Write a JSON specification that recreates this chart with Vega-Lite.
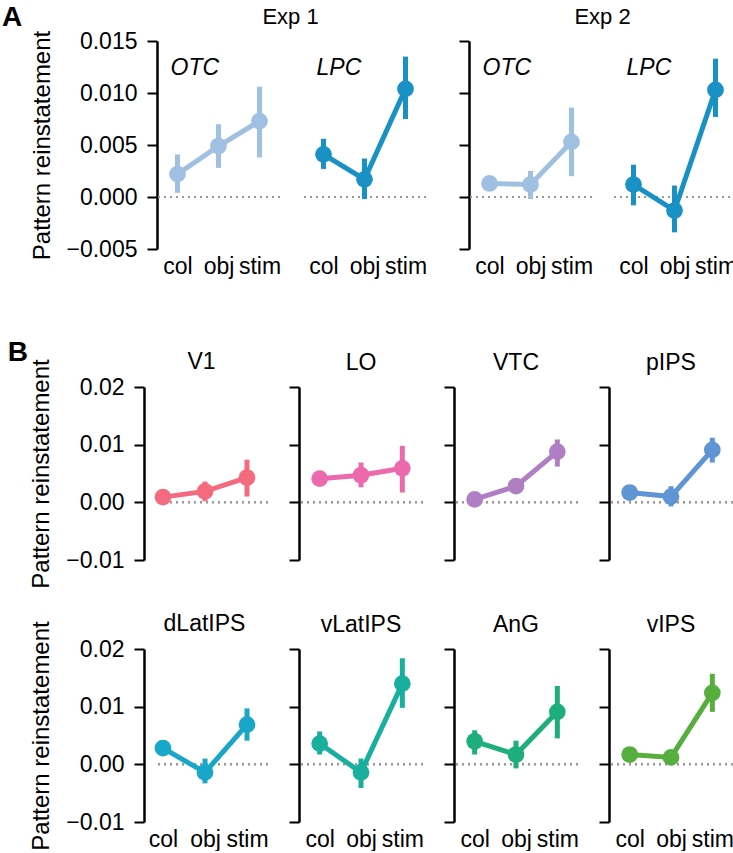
{
  "$schema": "https://vega.github.io/schema/vega-lite/v6.json",
  "padding": {"left": 2, "top": 4, "right": 0, "bottom": 0},
  "background": "white",
  "config": {
    "font": "Liberation Sans",
    "view": {"stroke": null},
    "axis": {"grid": false, "domainColor": "black", "domainWidth": 2.5, "tickColor": "black", "tickWidth": 2, "tickSize": 10, "labelFontSize": 23, "labelColor": "black", "titleFontSize": 24, "titleColor": "black", "titleFontWeight": "normal", "labelPadding": 10, "titlePadding": 12},
    "title": {"fontSize": 23, "fontWeight": "normal", "color": "black"}
  },
  "datasets": {
    "d": [
      {"set": "A1", "roi": "OTC", "cond": "col", "mean": 0.0022, "lo": 0.0004, "hi": 0.0041},
      {"set": "A1", "roi": "OTC", "cond": "obj", "mean": 0.0049, "lo": 0.0028, "hi": 0.0070},
      {"set": "A1", "roi": "OTC", "cond": "stim", "mean": 0.0073, "lo": 0.0038, "hi": 0.0106},
      {"set": "A1", "roi": "LPC", "cond": "col", "mean": 0.0041, "lo": 0.0027, "hi": 0.0056},
      {"set": "A1", "roi": "LPC", "cond": "obj", "mean": 0.0017, "lo": -0.0002, "hi": 0.0037},
      {"set": "A1", "roi": "LPC", "cond": "stim", "mean": 0.0104, "lo": 0.0075, "hi": 0.0135},
      {"set": "A2", "roi": "OTC", "cond": "col", "mean": 0.0013, "lo": 0.0010, "hi": 0.0016},
      {"set": "A2", "roi": "OTC", "cond": "obj", "mean": 0.0012, "lo": -0.0002, "hi": 0.0025},
      {"set": "A2", "roi": "OTC", "cond": "stim", "mean": 0.0053, "lo": 0.0020, "hi": 0.0086},
      {"set": "A2", "roi": "LPC", "cond": "col", "mean": 0.0012, "lo": -0.0008, "hi": 0.0031},
      {"set": "A2", "roi": "LPC", "cond": "obj", "mean": -0.0013, "lo": -0.0034, "hi": 0.0011},
      {"set": "A2", "roi": "LPC", "cond": "stim", "mean": 0.0103, "lo": 0.0077, "hi": 0.0133},
      {"set": "B", "roi": "V1", "cond": "col", "mean": 0.0009, "lo": 0.0004, "hi": 0.0014},
      {"set": "B", "roi": "V1", "cond": "obj", "mean": 0.0019, "lo": 0.0002, "hi": 0.0036},
      {"set": "B", "roi": "V1", "cond": "stim", "mean": 0.0043, "lo": 0.0010, "hi": 0.0074},
      {"set": "B", "roi": "LO", "cond": "col", "mean": 0.0041, "lo": 0.0033, "hi": 0.0049},
      {"set": "B", "roi": "LO", "cond": "obj", "mean": 0.0047, "lo": 0.0026, "hi": 0.0069},
      {"set": "B", "roi": "LO", "cond": "stim", "mean": 0.0059, "lo": 0.0017, "hi": 0.0098},
      {"set": "B", "roi": "VTC", "cond": "col", "mean": 0.0005, "lo": 0.0001, "hi": 0.0009},
      {"set": "B", "roi": "VTC", "cond": "obj", "mean": 0.0028, "lo": 0.0021, "hi": 0.0035},
      {"set": "B", "roi": "VTC", "cond": "stim", "mean": 0.0088, "lo": 0.0062, "hi": 0.0109},
      {"set": "B", "roi": "pIPS", "cond": "col", "mean": 0.0017, "lo": 0.0012, "hi": 0.0022},
      {"set": "B", "roi": "pIPS", "cond": "obj", "mean": 0.0010, "lo": -0.0007, "hi": 0.0028},
      {"set": "B", "roi": "pIPS", "cond": "stim", "mean": 0.0091, "lo": 0.0069, "hi": 0.0112},
      {"set": "B", "roi": "dLatIPS", "cond": "col", "mean": 0.0028, "lo": 0.0022, "hi": 0.0034},
      {"set": "B", "roi": "dLatIPS", "cond": "obj", "mean": -0.0014, "lo": -0.0033, "hi": 0.0010},
      {"set": "B", "roi": "dLatIPS", "cond": "stim", "mean": 0.0069, "lo": 0.0041, "hi": 0.0097},
      {"set": "B", "roi": "vLatIPS", "cond": "col", "mean": 0.0036, "lo": 0.0017, "hi": 0.0057},
      {"set": "B", "roi": "vLatIPS", "cond": "obj", "mean": -0.0014, "lo": -0.0041, "hi": 0.0010},
      {"set": "B", "roi": "vLatIPS", "cond": "stim", "mean": 0.0140, "lo": 0.0098, "hi": 0.0184},
      {"set": "B", "roi": "AnG", "cond": "col", "mean": 0.0040, "lo": 0.0017, "hi": 0.0059},
      {"set": "B", "roi": "AnG", "cond": "obj", "mean": 0.0017, "lo": -0.0007, "hi": 0.0041},
      {"set": "B", "roi": "AnG", "cond": "stim", "mean": 0.0091, "lo": 0.0045, "hi": 0.0136},
      {"set": "B", "roi": "vIPS", "cond": "col", "mean": 0.0017, "lo": 0.0010, "hi": 0.0024},
      {"set": "B", "roi": "vIPS", "cond": "obj", "mean": 0.0012, "lo": 0.0006, "hi": 0.0018},
      {"set": "B", "roi": "vIPS", "cond": "stim", "mean": 0.0124, "lo": 0.0091, "hi": 0.0157}
    ]
  },
  "spacing": 60,
  "vconcat": [
    {
      "title": {"text": "A", "anchor": "start", "fontSize": 28, "fontWeight": "bold", "dx": -28, "offset": -26},
      "spacing": 31,
      "hconcat": [
        {
          "title": {"text": "Exp 1", "anchor": "middle", "fontSize": 22, "offset": 1, "dx": 62},
          "spacing": 21,
          "hconcat": [
            {
              "width": 123, "height": 208,
              "data": {"name": "d"},
              "transform": [{"filter": "datum.set == 'A1' && datum.roi == 'OTC'"}],
              "encoding": {
                "y": {"field": "mean", "type": "quantitative", "scale": {"domain": [-0.005, 0.015], "nice": false, "zero": false}, "axis": {"values": [-0.005, 0, 0.005, 0.01, 0.015], "format": ".3f", "title": "Pattern reinstatement"}},
                "color": {"field": "roi", "type": "nominal", "legend": null, "scale": {"domain": ["OTC", "LPC", "V1", "LO", "VTC", "pIPS", "dLatIPS", "vLatIPS", "AnG", "vIPS"], "range": ["#a0c0e2", "#1a91c4", "#f46b80", "#ec69ad", "#b07fc3", "#5f95d5", "#18a7c8", "#19af9e", "#1dae7c", "#55ae3e"]}}
              },
              "layer": [
                {"mark": {"type": "rule", "strokeDash": [2, 4], "strokeWidth": 2}, "encoding": {"y": {"datum": 0}, "color": {"value": "#999999"}}},
                {"mark": {"type": "rule", "strokeWidth": 5}, "encoding": {"x": {"field": "cond", "type": "nominal", "scale": {"type": "point", "padding": 0.5, "domain": ["col", "obj", "stim"]}, "axis": {"title": null, "domain": false, "ticks": false, "labelAngle": 0, "labelPadding": 6}}, "y": {"field": "lo"}, "y2": {"field": "hi"}}},
                {"mark": {"type": "line", "strokeWidth": 5}, "encoding": {"x": {"field": "cond", "type": "nominal"}}},
                {"mark": {"type": "point", "filled": true, "size": 280, "opacity": 1}, "encoding": {"x": {"field": "cond", "type": "nominal"}}},
                {"transform": [{"filter": "datum.cond == 'col'"}], "mark": {"type": "text", "fontStyle": "italic", "fontSize": 23, "align": "left", "baseline": "alphabetic", "dx": -7}, "encoding": {"x": {"field": "cond", "type": "nominal"}, "y": {"datum": 0.0117}, "text": {"field": "roi"}, "color": {"value": "black"}}}
              ]
            },
            {
              "width": 123, "height": 208,
              "data": {"name": "d"},
              "transform": [{"filter": "datum.set == 'A1' && datum.roi == 'LPC'"}],
              "encoding": {
                "y": {"field": "mean", "type": "quantitative", "scale": {"domain": [-0.005, 0.015], "nice": false, "zero": false}, "axis": null},
                "color": {"field": "roi", "type": "nominal", "legend": null, "scale": {"domain": ["OTC", "LPC", "V1", "LO", "VTC", "pIPS", "dLatIPS", "vLatIPS", "AnG", "vIPS"], "range": ["#a0c0e2", "#1a91c4", "#f46b80", "#ec69ad", "#b07fc3", "#5f95d5", "#18a7c8", "#19af9e", "#1dae7c", "#55ae3e"]}}
              },
              "layer": [
                {"mark": {"type": "rule", "strokeDash": [2, 4], "strokeWidth": 2}, "encoding": {"y": {"datum": 0, "axis": null}, "color": {"value": "#999999"}}},
                {"mark": {"type": "rule", "strokeWidth": 5}, "encoding": {"x": {"field": "cond", "type": "nominal", "scale": {"type": "point", "padding": 0.5, "domain": ["col", "obj", "stim"]}, "axis": {"title": null, "domain": false, "ticks": false, "labelAngle": 0, "labelPadding": 6}}, "y": {"field": "lo", "axis": null}, "y2": {"field": "hi"}}},
                {"mark": {"type": "line", "strokeWidth": 5}, "encoding": {"x": {"field": "cond", "type": "nominal"}}},
                {"mark": {"type": "point", "filled": true, "size": 280, "opacity": 1}, "encoding": {"x": {"field": "cond", "type": "nominal"}}},
                {"transform": [{"filter": "datum.cond == 'col'"}], "mark": {"type": "text", "fontStyle": "italic", "fontSize": 23, "align": "left", "baseline": "alphabetic", "dx": -7}, "encoding": {"x": {"field": "cond", "type": "nominal"}, "y": {"datum": 0.0117, "axis": null}, "text": {"field": "roi"}, "color": {"value": "black"}}}
              ]
            }
          ]
        },
        {
          "title": {"text": "Exp 2", "anchor": "middle", "fontSize": 22, "offset": 11, "dx": 5},
          "spacing": 19,
          "hconcat": [
            {
              "width": 123, "height": 208,
              "data": {"name": "d"},
              "transform": [{"filter": "datum.set == 'A2' && datum.roi == 'OTC'"}],
              "encoding": {
                "y": {"field": "mean", "type": "quantitative", "scale": {"domain": [-0.005, 0.015], "nice": false, "zero": false}, "axis": {"values": [-0.005, 0, 0.005, 0.01, 0.015], "labels": false, "title": null}},
                "color": {"field": "roi", "type": "nominal", "legend": null, "scale": {"domain": ["OTC", "LPC", "V1", "LO", "VTC", "pIPS", "dLatIPS", "vLatIPS", "AnG", "vIPS"], "range": ["#a0c0e2", "#1a91c4", "#f46b80", "#ec69ad", "#b07fc3", "#5f95d5", "#18a7c8", "#19af9e", "#1dae7c", "#55ae3e"]}}
              },
              "layer": [
                {"mark": {"type": "rule", "strokeDash": [2, 4], "strokeWidth": 2}, "encoding": {"y": {"datum": 0}, "color": {"value": "#999999"}}},
                {"mark": {"type": "rule", "strokeWidth": 5}, "encoding": {"x": {"field": "cond", "type": "nominal", "scale": {"type": "point", "padding": 0.5, "domain": ["col", "obj", "stim"]}, "axis": {"title": null, "domain": false, "ticks": false, "labelAngle": 0, "labelPadding": 6}}, "y": {"field": "lo"}, "y2": {"field": "hi"}}},
                {"mark": {"type": "line", "strokeWidth": 5}, "encoding": {"x": {"field": "cond", "type": "nominal"}}},
                {"mark": {"type": "point", "filled": true, "size": 280, "opacity": 1}, "encoding": {"x": {"field": "cond", "type": "nominal"}}},
                {"transform": [{"filter": "datum.cond == 'col'"}], "mark": {"type": "text", "fontStyle": "italic", "fontSize": 23, "align": "left", "baseline": "alphabetic", "dx": -7}, "encoding": {"x": {"field": "cond", "type": "nominal"}, "y": {"datum": 0.0117}, "text": {"field": "roi"}, "color": {"value": "black"}}}
              ]
            },
            {
              "width": 123, "height": 208,
              "data": {"name": "d"},
              "transform": [{"filter": "datum.set == 'A2' && datum.roi == 'LPC'"}],
              "encoding": {
                "y": {"field": "mean", "type": "quantitative", "scale": {"domain": [-0.005, 0.015], "nice": false, "zero": false}, "axis": null},
                "color": {"field": "roi", "type": "nominal", "legend": null, "scale": {"domain": ["OTC", "LPC", "V1", "LO", "VTC", "pIPS", "dLatIPS", "vLatIPS", "AnG", "vIPS"], "range": ["#a0c0e2", "#1a91c4", "#f46b80", "#ec69ad", "#b07fc3", "#5f95d5", "#18a7c8", "#19af9e", "#1dae7c", "#55ae3e"]}}
              },
              "layer": [
                {"mark": {"type": "rule", "strokeDash": [2, 4], "strokeWidth": 2}, "encoding": {"y": {"datum": 0, "axis": null}, "color": {"value": "#999999"}}},
                {"mark": {"type": "rule", "strokeWidth": 5}, "encoding": {"x": {"field": "cond", "type": "nominal", "scale": {"type": "point", "padding": 0.5, "domain": ["col", "obj", "stim"]}, "axis": {"title": null, "domain": false, "ticks": false, "labelAngle": 0, "labelPadding": 6}}, "y": {"field": "lo", "axis": null}, "y2": {"field": "hi"}}},
                {"mark": {"type": "line", "strokeWidth": 5}, "encoding": {"x": {"field": "cond", "type": "nominal"}}},
                {"mark": {"type": "point", "filled": true, "size": 280, "opacity": 1}, "encoding": {"x": {"field": "cond", "type": "nominal"}}},
                {"transform": [{"filter": "datum.cond == 'col'"}], "mark": {"type": "text", "fontStyle": "italic", "fontSize": 23, "align": "left", "baseline": "alphabetic", "dx": -7}, "encoding": {"x": {"field": "cond", "type": "nominal"}, "y": {"datum": 0.0117, "axis": null}, "text": {"field": "roi"}, "color": {"value": "black"}}}
              ]
            }
          ]
        }
      ]
    },
    {
      "title": {"text": "B", "anchor": "start", "fontSize": 28, "fontWeight": "bold", "dx": -22, "offset": -16},
      "spacing": 23,
      "vconcat": [
        {
          "spacing": 19,
          "hconcat": [
            {"title": {"text": "V1", "frame": "group", "offset": -15, "dx": -11}, "width": 111, "height": 173, "data": {"name": "d"}, "transform": [{"filter": "datum.set == 'B' && datum.roi == 'V1'"}],
             "encoding": {"y": {"field": "mean", "type": "quantitative", "scale": {"domain": [-0.01, 0.02], "nice": false, "zero": false}, "axis": {"values": [-0.01, 0, 0.01, 0.02], "format": ".2f", "title": "Pattern reinstatement", "offset": 13}},
               "color": {"field": "roi", "type": "nominal", "legend": null, "scale": {"domain": ["OTC", "LPC", "V1", "LO", "VTC", "pIPS", "dLatIPS", "vLatIPS", "AnG", "vIPS"], "range": ["#a0c0e2", "#1a91c4", "#f46b80", "#ec69ad", "#b07fc3", "#5f95d5", "#18a7c8", "#19af9e", "#1dae7c", "#55ae3e"]}}},
             "layer": [
               {"mark": {"type": "rule", "strokeDash": [2, 4], "strokeWidth": 2}, "encoding": {"y": {"datum": 0}, "color": {"value": "#999999"}}},
               {"mark": {"type": "rule", "strokeWidth": 5}, "encoding": {"x": {"field": "cond", "type": "nominal", "scale": {"type": "point", "padding": 0.3214, "align": 0.222, "domain": ["col", "obj", "stim"]}, "axis": null}, "y": {"field": "lo"}, "y2": {"field": "hi"}}},
               {"mark": {"type": "line", "strokeWidth": 5}, "encoding": {"x": {"field": "cond", "type": "nominal"}}},
               {"mark": {"type": "point", "filled": true, "size": 280, "opacity": 1}, "encoding": {"x": {"field": "cond", "type": "nominal"}}}
             ]},
            {"title": {"text": "LO", "frame": "group", "offset": 11}, "width": 124, "height": 173, "data": {"name": "d"}, "transform": [{"filter": "datum.set == 'B' && datum.roi == 'LO'"}],
             "encoding": {"y": {"field": "mean", "type": "quantitative", "scale": {"domain": [-0.01, 0.02], "nice": false, "zero": false}, "axis": {"values": [-0.01, 0, 0.01, 0.02], "labels": false, "title": null}},
               "color": {"field": "roi", "type": "nominal", "legend": null, "scale": {"domain": ["OTC", "LPC", "V1", "LO", "VTC", "pIPS", "dLatIPS", "vLatIPS", "AnG", "vIPS"], "range": ["#a0c0e2", "#1a91c4", "#f46b80", "#ec69ad", "#b07fc3", "#5f95d5", "#18a7c8", "#19af9e", "#1dae7c", "#55ae3e"]}}},
             "layer": [
               {"mark": {"type": "rule", "strokeDash": [2, 4], "strokeWidth": 2}, "encoding": {"y": {"datum": 0}, "color": {"value": "#999999"}}},
               {"mark": {"type": "rule", "strokeWidth": 5}, "encoding": {"x": {"field": "cond", "type": "nominal", "scale": {"type": "point", "padding": 0.5, "domain": ["col", "obj", "stim"]}, "axis": null}, "y": {"field": "lo"}, "y2": {"field": "hi"}}},
               {"mark": {"type": "line", "strokeWidth": 5}, "encoding": {"x": {"field": "cond", "type": "nominal"}}},
               {"mark": {"type": "point", "filled": true, "size": 280, "opacity": 1}, "encoding": {"x": {"field": "cond", "type": "nominal"}}}
             ]},
            {"title": {"text": "VTC", "frame": "group", "offset": 11}, "width": 124, "height": 173, "data": {"name": "d"}, "transform": [{"filter": "datum.set == 'B' && datum.roi == 'VTC'"}],
             "encoding": {"y": {"field": "mean", "type": "quantitative", "scale": {"domain": [-0.01, 0.02], "nice": false, "zero": false}, "axis": {"values": [-0.01, 0, 0.01, 0.02], "labels": false, "title": null}},
               "color": {"field": "roi", "type": "nominal", "legend": null, "scale": {"domain": ["OTC", "LPC", "V1", "LO", "VTC", "pIPS", "dLatIPS", "vLatIPS", "AnG", "vIPS"], "range": ["#a0c0e2", "#1a91c4", "#f46b80", "#ec69ad", "#b07fc3", "#5f95d5", "#18a7c8", "#19af9e", "#1dae7c", "#55ae3e"]}}},
             "layer": [
               {"mark": {"type": "rule", "strokeDash": [2, 4], "strokeWidth": 2}, "encoding": {"y": {"datum": 0}, "color": {"value": "#999999"}}},
               {"mark": {"type": "rule", "strokeWidth": 5}, "encoding": {"x": {"field": "cond", "type": "nominal", "scale": {"type": "point", "padding": 0.5, "domain": ["col", "obj", "stim"]}, "axis": null}, "y": {"field": "lo"}, "y2": {"field": "hi"}}},
               {"mark": {"type": "line", "strokeWidth": 5}, "encoding": {"x": {"field": "cond", "type": "nominal"}}},
               {"mark": {"type": "point", "filled": true, "size": 280, "opacity": 1}, "encoding": {"x": {"field": "cond", "type": "nominal"}}}
             ]},
            {"title": {"text": "pIPS", "frame": "group", "offset": 11}, "width": 124, "height": 173, "data": {"name": "d"}, "transform": [{"filter": "datum.set == 'B' && datum.roi == 'pIPS'"}],
             "encoding": {"y": {"field": "mean", "type": "quantitative", "scale": {"domain": [-0.01, 0.02], "nice": false, "zero": false}, "axis": {"values": [-0.01, 0, 0.01, 0.02], "labels": false, "title": null}},
               "color": {"field": "roi", "type": "nominal", "legend": null, "scale": {"domain": ["OTC", "LPC", "V1", "LO", "VTC", "pIPS", "dLatIPS", "vLatIPS", "AnG", "vIPS"], "range": ["#a0c0e2", "#1a91c4", "#f46b80", "#ec69ad", "#b07fc3", "#5f95d5", "#18a7c8", "#19af9e", "#1dae7c", "#55ae3e"]}}},
             "layer": [
               {"mark": {"type": "rule", "strokeDash": [2, 4], "strokeWidth": 2}, "encoding": {"y": {"datum": 0}, "color": {"value": "#999999"}}},
               {"mark": {"type": "rule", "strokeWidth": 5}, "encoding": {"x": {"field": "cond", "type": "nominal", "scale": {"type": "point", "padding": 0.5, "domain": ["col", "obj", "stim"]}, "axis": null}, "y": {"field": "lo"}, "y2": {"field": "hi"}}},
               {"mark": {"type": "line", "strokeWidth": 5}, "encoding": {"x": {"field": "cond", "type": "nominal"}}},
               {"mark": {"type": "point", "filled": true, "size": 280, "opacity": 1}, "encoding": {"x": {"field": "cond", "type": "nominal"}}}
             ]}
          ]
        },
        {
          "spacing": 19,
          "hconcat": [
            {"title": {"text": "dLatIPS", "frame": "group", "offset": -15, "dx": -8}, "width": 111, "height": 173, "data": {"name": "d"}, "transform": [{"filter": "datum.set == 'B' && datum.roi == 'dLatIPS'"}],
             "encoding": {"y": {"field": "mean", "type": "quantitative", "scale": {"domain": [-0.01, 0.02], "nice": false, "zero": false}, "axis": {"values": [-0.01, 0, 0.01, 0.02], "format": ".2f", "title": "Pattern reinstatement", "offset": 13}},
               "color": {"field": "roi", "type": "nominal", "legend": null, "scale": {"domain": ["OTC", "LPC", "V1", "LO", "VTC", "pIPS", "dLatIPS", "vLatIPS", "AnG", "vIPS"], "range": ["#a0c0e2", "#1a91c4", "#f46b80", "#ec69ad", "#b07fc3", "#5f95d5", "#18a7c8", "#19af9e", "#1dae7c", "#55ae3e"]}}},
             "layer": [
               {"mark": {"type": "rule", "strokeDash": [2, 4], "strokeWidth": 2}, "encoding": {"y": {"datum": 0}, "color": {"value": "#999999"}}},
               {"mark": {"type": "rule", "strokeWidth": 5}, "encoding": {"x": {"field": "cond", "type": "nominal", "scale": {"type": "point", "padding": 0.3214, "align": 0.222, "domain": ["col", "obj", "stim"]}, "axis": {"title": null, "domain": false, "ticks": false, "labelAngle": 0, "labelPadding": 6}}, "y": {"field": "lo"}, "y2": {"field": "hi"}}},
               {"mark": {"type": "line", "strokeWidth": 5}, "encoding": {"x": {"field": "cond", "type": "nominal"}}},
               {"mark": {"type": "point", "filled": true, "size": 280, "opacity": 1}, "encoding": {"x": {"field": "cond", "type": "nominal"}}}
             ]},
            {"title": {"text": "vLatIPS", "frame": "group", "offset": 11}, "width": 124, "height": 173, "data": {"name": "d"}, "transform": [{"filter": "datum.set == 'B' && datum.roi == 'vLatIPS'"}],
             "encoding": {"y": {"field": "mean", "type": "quantitative", "scale": {"domain": [-0.01, 0.02], "nice": false, "zero": false}, "axis": {"values": [-0.01, 0, 0.01, 0.02], "labels": false, "title": null}},
               "color": {"field": "roi", "type": "nominal", "legend": null, "scale": {"domain": ["OTC", "LPC", "V1", "LO", "VTC", "pIPS", "dLatIPS", "vLatIPS", "AnG", "vIPS"], "range": ["#a0c0e2", "#1a91c4", "#f46b80", "#ec69ad", "#b07fc3", "#5f95d5", "#18a7c8", "#19af9e", "#1dae7c", "#55ae3e"]}}},
             "layer": [
               {"mark": {"type": "rule", "strokeDash": [2, 4], "strokeWidth": 2}, "encoding": {"y": {"datum": 0}, "color": {"value": "#999999"}}},
               {"mark": {"type": "rule", "strokeWidth": 5}, "encoding": {"x": {"field": "cond", "type": "nominal", "scale": {"type": "point", "padding": 0.5, "domain": ["col", "obj", "stim"]}, "axis": {"title": null, "domain": false, "ticks": false, "labelAngle": 0, "labelPadding": 6}}, "y": {"field": "lo"}, "y2": {"field": "hi"}}},
               {"mark": {"type": "line", "strokeWidth": 5}, "encoding": {"x": {"field": "cond", "type": "nominal"}}},
               {"mark": {"type": "point", "filled": true, "size": 280, "opacity": 1}, "encoding": {"x": {"field": "cond", "type": "nominal"}}}
             ]},
            {"title": {"text": "AnG", "frame": "group", "offset": 11}, "width": 124, "height": 173, "data": {"name": "d"}, "transform": [{"filter": "datum.set == 'B' && datum.roi == 'AnG'"}],
             "encoding": {"y": {"field": "mean", "type": "quantitative", "scale": {"domain": [-0.01, 0.02], "nice": false, "zero": false}, "axis": {"values": [-0.01, 0, 0.01, 0.02], "labels": false, "title": null}},
               "color": {"field": "roi", "type": "nominal", "legend": null, "scale": {"domain": ["OTC", "LPC", "V1", "LO", "VTC", "pIPS", "dLatIPS", "vLatIPS", "AnG", "vIPS"], "range": ["#a0c0e2", "#1a91c4", "#f46b80", "#ec69ad", "#b07fc3", "#5f95d5", "#18a7c8", "#19af9e", "#1dae7c", "#55ae3e"]}}},
             "layer": [
               {"mark": {"type": "rule", "strokeDash": [2, 4], "strokeWidth": 2}, "encoding": {"y": {"datum": 0}, "color": {"value": "#999999"}}},
               {"mark": {"type": "rule", "strokeWidth": 5}, "encoding": {"x": {"field": "cond", "type": "nominal", "scale": {"type": "point", "padding": 0.5, "domain": ["col", "obj", "stim"]}, "axis": {"title": null, "domain": false, "ticks": false, "labelAngle": 0, "labelPadding": 6}}, "y": {"field": "lo"}, "y2": {"field": "hi"}}},
               {"mark": {"type": "line", "strokeWidth": 5}, "encoding": {"x": {"field": "cond", "type": "nominal"}}},
               {"mark": {"type": "point", "filled": true, "size": 280, "opacity": 1}, "encoding": {"x": {"field": "cond", "type": "nominal"}}}
             ]},
            {"title": {"text": "vIPS", "frame": "group", "offset": 11}, "width": 124, "height": 173, "data": {"name": "d"}, "transform": [{"filter": "datum.set == 'B' && datum.roi == 'vIPS'"}],
             "encoding": {"y": {"field": "mean", "type": "quantitative", "scale": {"domain": [-0.01, 0.02], "nice": false, "zero": false}, "axis": {"values": [-0.01, 0, 0.01, 0.02], "labels": false, "title": null}},
               "color": {"field": "roi", "type": "nominal", "legend": null, "scale": {"domain": ["OTC", "LPC", "V1", "LO", "VTC", "pIPS", "dLatIPS", "vLatIPS", "AnG", "vIPS"], "range": ["#a0c0e2", "#1a91c4", "#f46b80", "#ec69ad", "#b07fc3", "#5f95d5", "#18a7c8", "#19af9e", "#1dae7c", "#55ae3e"]}}},
             "layer": [
               {"mark": {"type": "rule", "strokeDash": [2, 4], "strokeWidth": 2}, "encoding": {"y": {"datum": 0}, "color": {"value": "#999999"}}},
               {"mark": {"type": "rule", "strokeWidth": 5}, "encoding": {"x": {"field": "cond", "type": "nominal", "scale": {"type": "point", "padding": 0.5, "domain": ["col", "obj", "stim"]}, "axis": {"title": null, "domain": false, "ticks": false, "labelAngle": 0, "labelPadding": 6}}, "y": {"field": "lo"}, "y2": {"field": "hi"}}},
               {"mark": {"type": "line", "strokeWidth": 5}, "encoding": {"x": {"field": "cond", "type": "nominal"}}},
               {"mark": {"type": "point", "filled": true, "size": 280, "opacity": 1}, "encoding": {"x": {"field": "cond", "type": "nominal"}}}
             ]}
          ]
        }
      ]
    }
  ]
}
